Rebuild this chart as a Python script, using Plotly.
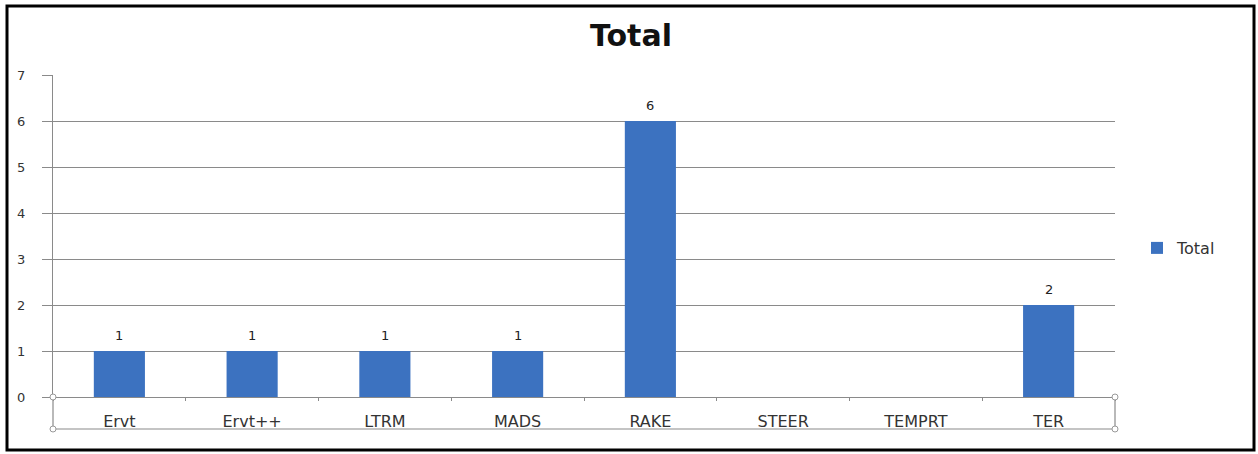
import plotly.graph_objects as go

categories = ["Ervt", "Ervt++", "LTRM", "MADS", "RAKE", "STEER", "TEMPRT", "TER"]
totals = [1, 1, 1, 1, 6, None, None, 2]
y_ticks = [0, 1, 2, 3, 4, 5, 6, 7]
series_name = "Total"
chart_title = "Total"

W, H = 1258, 454
L, R, T, B = 53, 1115, 75, 397  # plot area pixel box

def px(x):
    return (x - L) / (R - L)

def py(y):
    return (B - y) / (B - T)

fig = go.Figure()
fig.add_trace(go.Bar(
    x=categories, y=totals, name=series_name,
    marker=dict(color="#3C72C0", line=dict(width=0)),
    showlegend=True,
))

anns = []
for c, v in zip(categories, totals):
    if v is not None:
        anns.append(dict(x=c, y=v, xref="x", yref="y", text=str(v), showarrow=False,
                         yshift=16, font=dict(family="DejaVu Sans", size=13, color="#222")))

anns.append(dict(x=px(631), y=py(36), xref="paper", yref="paper", text="<b>" + chart_title + "</b>",
                 showarrow=False, font=dict(family="DejaVu Sans", size=30, color="#111"),
                 xanchor="center", yanchor="middle"))

grey = "#8a8a8a"
shapes = [
    # outer border
    dict(type="rect", xref="paper", yref="paper", x0=px(7), x1=px(1254), y0=py(6), y1=py(450),
         line=dict(color="#000", width=3), fillcolor="rgba(0,0,0,0)", layer="above"),
    # category box
    dict(type="line", xref="paper", yref="paper", x0=0, x1=1, y0=py(429), y1=py(429),
         line=dict(color=grey, width=1.2)),
    dict(type="line", xref="paper", yref="paper", x0=0, x1=0, y0=0, y1=py(429),
         line=dict(color=grey, width=1.2)),
    dict(type="line", xref="paper", yref="paper", x0=1, x1=1, y0=0, y1=py(429),
         line=dict(color=grey, width=1.2)),
]
for hx, hy in [(L, B), (L, 429), (R, B), (R, 429)]:
    shapes.append(dict(type="circle", xref="paper", yref="paper",
                       x0=px(hx - 3), x1=px(hx + 3), y0=py(hy + 3), y1=py(hy - 3),
                       line=dict(color="#999", width=1), fillcolor="white", layer="above"))

fig.update_layout(
    width=W, height=H,
    margin=dict(l=L, r=W - R, t=T, b=H - B),
    paper_bgcolor="white", plot_bgcolor="white",
    bargap=0.615,
    font=dict(family="DejaVu Sans", color="#444"),
    xaxis=dict(
        showgrid=False, showline=True, linecolor=grey, linewidth=1.2,
        ticks="outside", tickson="boundaries", ticklen=3, tickcolor=grey,
        tickfont=dict(size=16, color="#333"), ticklabelstandoff=10,
    ),
    yaxis=dict(
        range=[0, 7], tickvals=y_ticks, showgrid=True, gridcolor=grey, gridwidth=1.2,
        showline=True, linecolor=grey, linewidth=1.2, zeroline=False,
        ticks="outside", ticklen=10, tickcolor=grey,
        tickfont=dict(size=13, color="#333"), ticklabelstandoff=14,
    ),
    legend=dict(x=px(1137), y=py(248), xanchor="left", yanchor="middle",
                font=dict(size=16, color="#333"), itemwidth=30, bgcolor="rgba(0,0,0,0)"),
    annotations=anns,
    shapes=shapes,
)

fig.write_html("out.html", config={"displayModeBar": False},
               post_script="document.body.style.margin='0';document.body.style.overflow='hidden';")
